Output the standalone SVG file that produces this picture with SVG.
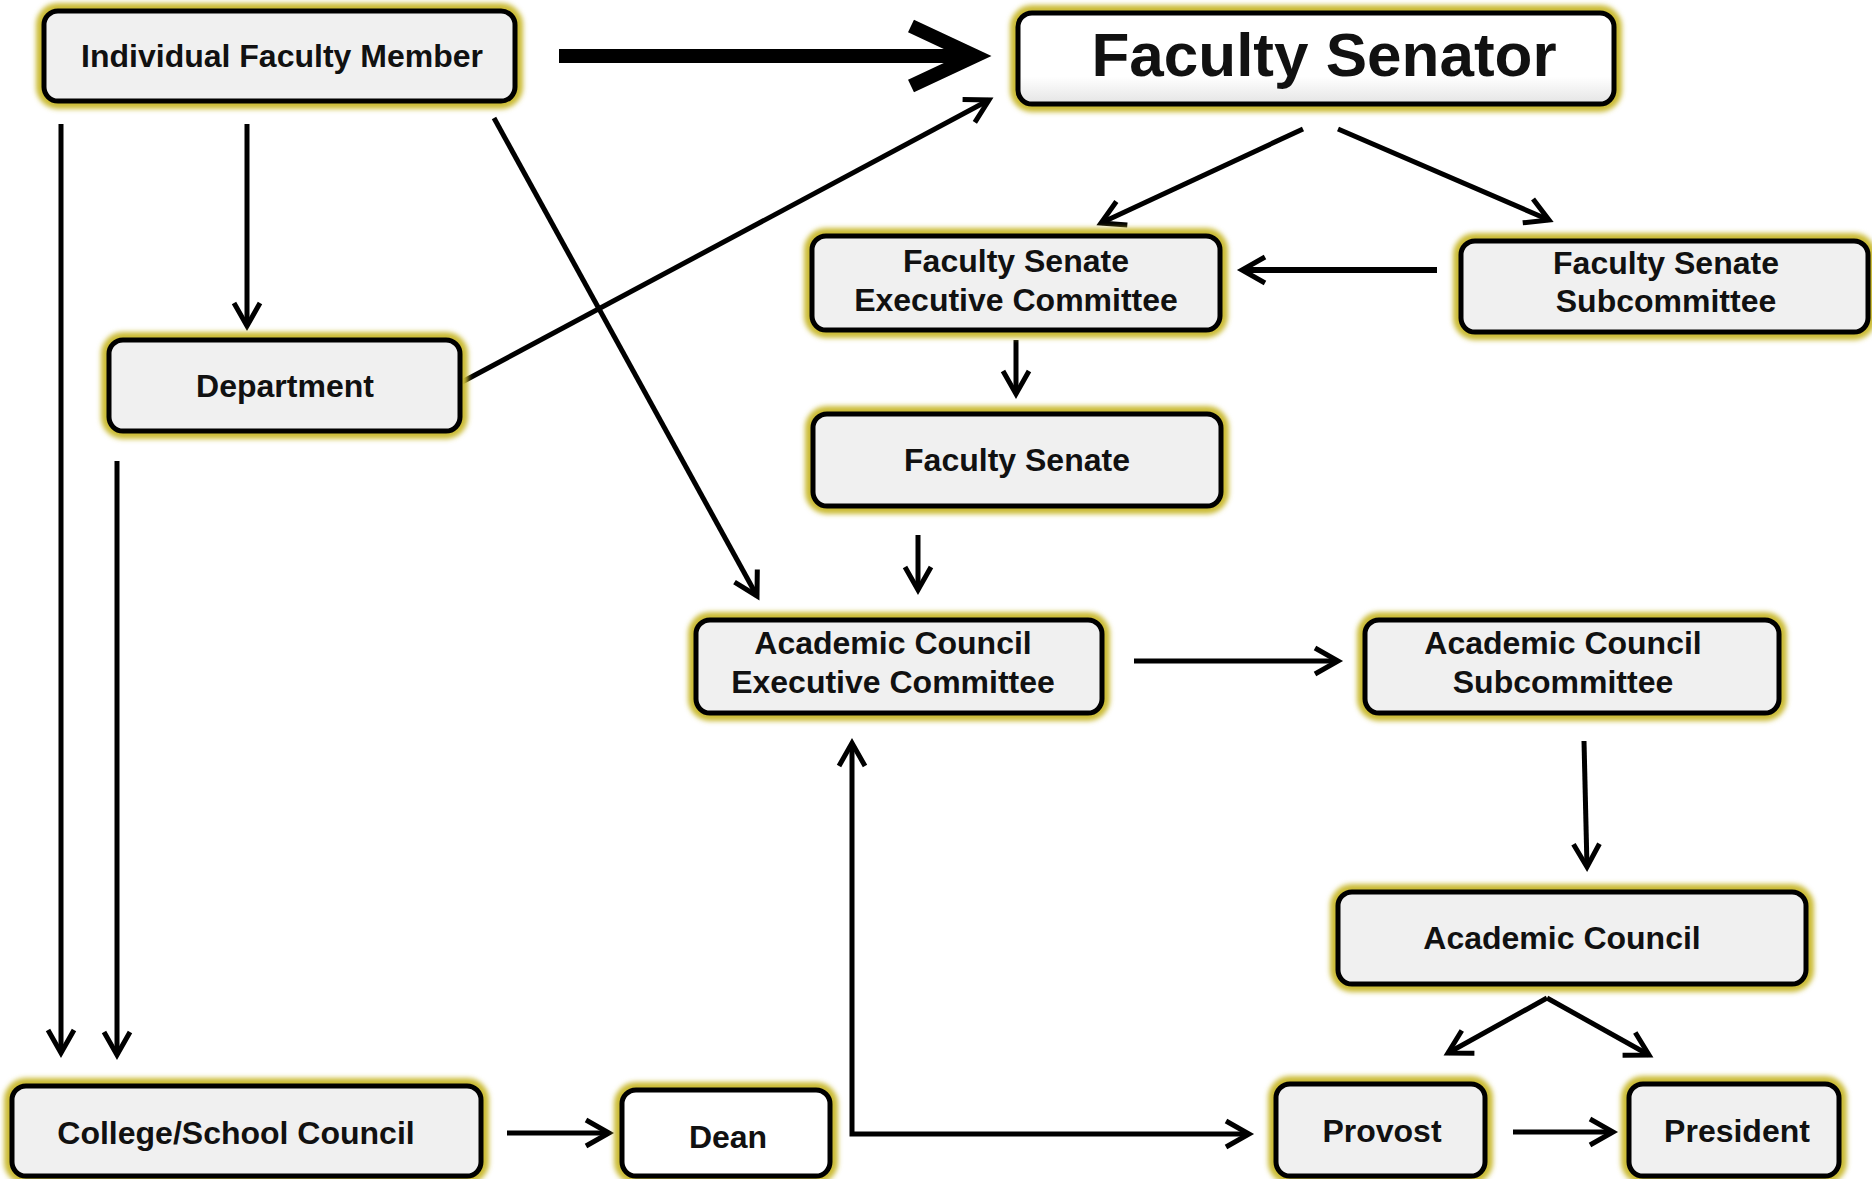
<svg xmlns="http://www.w3.org/2000/svg" width="1872" height="1179" viewBox="0 0 1872 1179">
<defs>
<style>
.glow{fill:none;stroke:#cbbb34;stroke-width:16;filter:url(#blur)}
.box{fill:#f0f0f0;stroke:#000;stroke-width:5}
.white{fill:#ffffff}
.lbl{font-family:"Liberation Sans",Arial,sans-serif;font-weight:bold;font-size:32px;text-anchor:middle;fill:#111}
.big{font-size:62px}
.con{fill:none;stroke:#000;stroke-width:5}
.thick{stroke-width:14}
.mid{stroke-width:6}
</style>
<filter id="blur" x="-10%" y="-30%" width="120%" height="160%"><feGaussianBlur stdDeviation="2.5"/></filter>
<linearGradient id="sen" x1="0" y1="0" x2="0" y2="1"><stop offset="0" stop-color="#ffffff"/><stop offset="0.7" stop-color="#ffffff"/><stop offset="1" stop-color="#e4e4e4"/></linearGradient>
<marker id="ah" markerUnits="userSpaceOnUse" markerWidth="40" markerHeight="40" refX="30" refY="20" orient="auto-start-reverse" overflow="visible"><path d="M7 7 L30 20 L7 33" fill="none" stroke="#000" stroke-width="5"/></marker>
<marker id="ahBig" markerUnits="userSpaceOnUse" markerWidth="80" markerHeight="80" refX="70" refY="40" orient="auto" overflow="visible"><path d="M6 10 L70 40 L6 70" fill="none" stroke="#000" stroke-width="14"/></marker>
</defs>
<rect width="1872" height="1179" fill="#fff"/>

<g id="connectors">
<path class="con thick" d="M559 56 L975 56" marker-end="url(#ahBig)"/>
<path class="con" d="M61 124 V1053" marker-end="url(#ah)"/>
<path class="con" d="M247 124 V326" marker-end="url(#ah)"/>
<path class="con" d="M494 118 L757 596" marker-end="url(#ah)"/>
<path class="con" d="M462 382 L989 100" marker-end="url(#ah)"/>
<path class="con" d="M117 461 V1055" marker-end="url(#ah)"/>
<path class="con" d="M1303 129 L1101 223" marker-end="url(#ah)"/>
<path class="con" d="M1338 129 L1549 220" marker-end="url(#ah)"/>
<path class="con mid" d="M1437 270 L1242 270" marker-end="url(#ah)"/>
<path class="con" d="M1016 340 V394" marker-end="url(#ah)"/>
<path class="con" d="M918 535 V590" marker-end="url(#ah)"/>
<path class="con" d="M1134 661 L1338 661" marker-end="url(#ah)"/>
<path class="con" d="M1584 741 L1587 867" marker-end="url(#ah)"/>
<path class="con" d="M1547 998 L1448 1053" marker-end="url(#ah)"/>
<path class="con" d="M1547 998 L1649 1055" marker-end="url(#ah)"/>
<path class="con" d="M507 1133 L609 1133" marker-end="url(#ah)"/>
<path class="con" d="M852 743 V1134 H1249" marker-start="url(#ah)" marker-end="url(#ah)"/>
<path class="con" d="M1513 1132 L1613 1132" marker-end="url(#ah)"/>
</g>

<g id="individual-faculty-member">
<rect class="glow" x="44" y="11" width="471" height="90" rx="14"/>
<rect class="box" x="44" y="11" width="471" height="90" rx="14"/>
<text class="lbl" x="282" y="67">Individual Faculty Member</text>
</g>
<g id="faculty-senator">
<rect class="glow" x="1018" y="13" width="596" height="91" rx="14"/>
<rect class="box" x="1018" y="13" width="596" height="91" rx="14" style="fill:url(#sen)"/>
<text class="lbl big" x="1324" y="76">Faculty Senator</text>
</g>
<g id="fs-executive-committee">
<rect class="glow" x="812" y="236" width="408" height="94" rx="14"/>
<rect class="box" x="812" y="236" width="408" height="94" rx="14"/>
<text class="lbl" x="1016" y="272">Faculty Senate</text>
<text class="lbl" x="1016" y="311">Executive Committee</text>
</g>
<g id="fs-subcommittee">
<rect class="glow" x="1461" y="241" width="407" height="91" rx="14"/>
<rect class="box" x="1461" y="241" width="407" height="91" rx="14"/>
<text class="lbl" x="1666" y="274">Faculty Senate</text>
<text class="lbl" x="1666" y="312">Subcommittee</text>
</g>
<g id="department">
<rect class="glow" x="109" y="340" width="351" height="91" rx="14"/>
<rect class="box" x="109" y="340" width="351" height="91" rx="14"/>
<text class="lbl" x="285" y="397">Department</text>
</g>
<g id="faculty-senate">
<rect class="glow" x="813" y="414" width="408" height="92" rx="14"/>
<rect class="box" x="813" y="414" width="408" height="92" rx="14"/>
<text class="lbl" x="1017" y="471">Faculty Senate</text>
</g>
<g id="ac-executive-committee">
<rect class="glow" x="696" y="620" width="406" height="93" rx="14"/>
<rect class="box" x="696" y="620" width="406" height="93" rx="14"/>
<text class="lbl" x="893" y="654">Academic Council</text>
<text class="lbl" x="893" y="693">Executive Committee</text>
</g>
<g id="ac-subcommittee">
<rect class="glow" x="1365" y="620" width="414" height="93" rx="14"/>
<rect class="box" x="1365" y="620" width="414" height="93" rx="14"/>
<text class="lbl" x="1563" y="654">Academic Council</text>
<text class="lbl" x="1563" y="693">Subcommittee</text>
</g>
<g id="academic-council">
<rect class="glow" x="1338" y="892" width="468" height="92" rx="14"/>
<rect class="box" x="1338" y="892" width="468" height="92" rx="14"/>
<text class="lbl" x="1562" y="949">Academic Council</text>
</g>
<g id="college-school-council">
<rect class="glow" x="12" y="1086" width="469" height="90" rx="14"/>
<rect class="box" x="12" y="1086" width="469" height="90" rx="14"/>
<text class="lbl" x="236" y="1144">College/School Council</text>
</g>
<g id="dean">
<rect class="glow" x="622" y="1090" width="208" height="86" rx="14"/>
<rect class="box white" x="622" y="1090" width="208" height="86" rx="14"/>
<text class="lbl" x="728" y="1148">Dean</text>
</g>
<g id="provost">
<rect class="glow" x="1276" y="1084" width="209" height="92" rx="14"/>
<rect class="box" x="1276" y="1084" width="209" height="92" rx="14"/>
<text class="lbl" x="1382" y="1142">Provost</text>
</g>
<g id="president">
<rect class="glow" x="1629" y="1084" width="210" height="92" rx="14"/>
<rect class="box" x="1629" y="1084" width="210" height="92" rx="14"/>
<text class="lbl" x="1737" y="1142">President</text>
</g>
</svg>
